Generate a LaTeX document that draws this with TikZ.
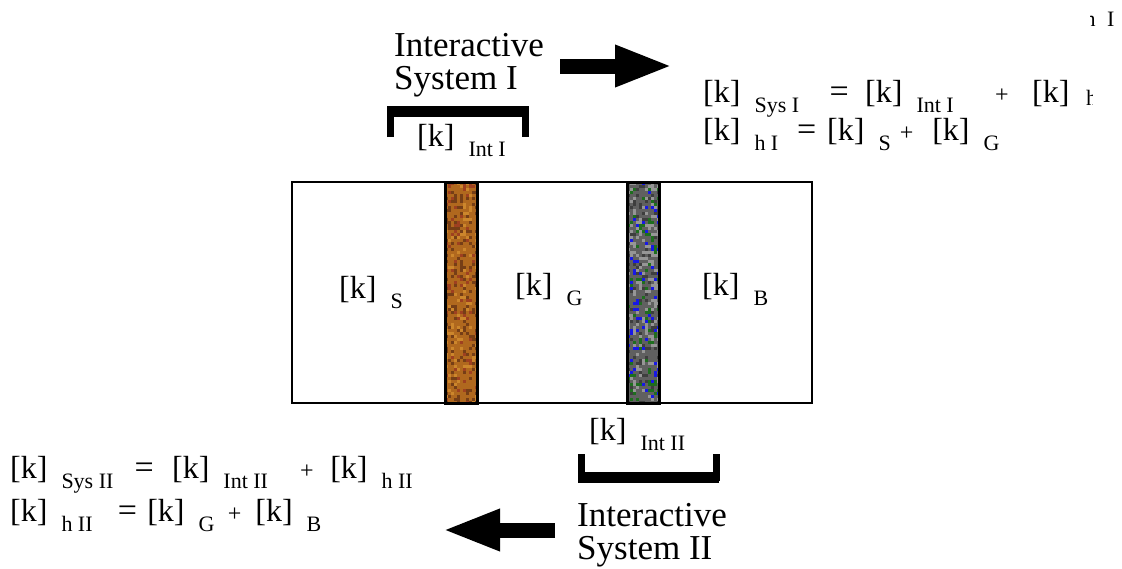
\documentclass[tikz,border=0pt]{standalone}
\usepackage{fontspec}
\setmainfont{Liberation Serif}
\usetikzlibrary{arrows.meta,positioning}
\definecolor{brownbase}{RGB}{176,104,30}
\definecolor{browndark}{RGB}{118,62,22}
\definecolor{brownred}{RGB}{158,64,32}
\definecolor{brownlight}{RGB}{204,134,44}
\definecolor{graybase}{RGB}{96,96,96}
\definecolor{graylight}{RGB}{150,150,150}
\definecolor{graydark}{RGB}{62,62,62}
\definecolor{grainblue}{RGB}{24,24,230}
\definecolor{graingreen}{RGB}{30,110,30}
\pgfmathdeclarerandomlist{brownlist}{{browndark}{brownred}{brownlight}{browndark}}
\pgfmathdeclarerandomlist{graylist}{{graylight}{graydark}{grainblue}{graylight}{graingreen}}
\newcommand{\subsz}{\fontsize{22}{24}\selectfont}
\newcommand{\kt}[1]{[k]\hspace{14pt}\raisebox{-10pt}{\subsz #1}}
\newcommand{\eqs}{{\fontsize{34}{34}\selectfont =}}
\newcommand{\pls}{{\fontsize{24}{24}\selectfont +}}

\begin{document}
\begin{tikzpicture}[x=1pt,y=-1pt,
    txt/.style={inner sep=0pt,anchor=base west,font=\fontsize{32}{32}\selectfont},
    lbl/.style={inner sep=0pt,anchor=north west,align=left,font=\fontsize{35}{33}\selectfont},
    bigarrow/.style={line width=15pt,-{Triangle[length=58pt,width=38pt]}},
    bracketleg/.style={line width=7pt},
    bracketbar/.style={line width=11pt}
]
\useasboundingbox (0,0) rectangle (1122,568);

% wall layers
\draw[line width=1.6pt] (292,182) rectangle (812,403);
\pgfmathsetseed{11}
\begin{scope}
  \clip (445,182) rectangle (477,403);
  \fill[brownbase] (445,182) rectangle (477,403);
  \foreach \i in {1,...,420}{
    \pgfmathsetmacro\rx{445+int(rnd*11)*3}
    \pgfmathsetmacro\ry{182+int(rnd*74)*3}
    \pgfmathrandomitem\bcol{brownlist}
    \fill[\bcol] (\rx,\ry) rectangle ++(3,3);
  }
\end{scope}
\begin{scope}
  \clip (627,182) rectangle (659,403);
  \fill[graybase] (627,182) rectangle (659,403);
  \foreach \i in {1,...,520}{
    \pgfmathsetmacro\rx{627+int(rnd*11)*3}
    \pgfmathsetmacro\ry{182+int(rnd*74)*3}
    \pgfmathrandomitem\bcol{graylist}
    \fill[\bcol] (\rx,\ry) rectangle ++(3,3);
  }
\end{scope}
\draw[line width=3pt] (445,182) rectangle (477,403);
\draw[line width=3pt] (627,182) rectangle (659,403);

\node[txt] (kS) at (339,298) {\kt{S}};
\node[txt] (kG) at (515,295) {\kt{G}};
\node[txt] (kB) at (702,295) {\kt{B}};

% interactive system I
\node[lbl] (sysI) at (394,33) {Interactive\\System I};
\draw[bracketleg] (390.5,137) |- (525.5,111.5) -- (525.5,137);
\draw[bracketbar] (387,111.5) -- (529,111.5);
\node[txt] (kIntI) at (417,146) {\kt{Int I}};
\coordinate (arrIs) at (560,66);
\coordinate (arrIe) at (673,66);
\draw[bigarrow] (arrIs) -- (arrIe);

\begin{scope}
  \clip (0,0) rectangle (1092,568);
  \node[txt] (eqSysI) at (703,102) {\kt{Sys I}\hspace{30.6pt}\eqs\hspace{16.3pt}\kt{Int I}\hspace{41.4pt}\pls\hspace{23.5pt}[k]\hspace{16.7pt}\raisebox{-3pt}{\subsz h}};
\end{scope}
\begin{scope}
  \clip (1090,0) rectangle (1122,60);
  \node[txt,font=\subsz] (wrapI) at (1084.5,26) {h\hspace{11.5pt}I};
\end{scope}
\node[txt] (eqhI) at (703,140) {\kt{h I}\hspace{18.9pt}\eqs\hspace{10.8pt}\kt{S}\hspace{9pt}\pls\hspace{19pt}\kt{G}};

% interactive system II
\node[txt] (kIntII) at (589,440) {\kt{Int II}};
\draw[bracketleg] (581.5,454) |- (716,477.5) -- (716,454);
\draw[bracketbar] (578,477.5) -- (719,477.5);
\node[lbl] (sysII) at (577,503) {Interactive\\System II};
\coordinate (arrIIs) at (555,530);
\coordinate (arrIIe) at (442,530);
\draw[bigarrow] (arrIIs) -- (arrIIe);

\node[txt] (eqSysII) at (10,478) {\kt{Sys II}\hspace{21.2pt}\eqs\hspace{18.3pt}\kt{Int II}\hspace{32.2pt}\pls\hspace{16.5pt}\kt{h II}};
\node[txt] (eqhII) at (10,521) {\kt{h II}\hspace{25.2pt}\eqs\hspace{10.3pt}\kt{G}\hspace{13.3pt}\pls\hspace{14pt}\kt{B}};
\end{tikzpicture}
\end{document}
